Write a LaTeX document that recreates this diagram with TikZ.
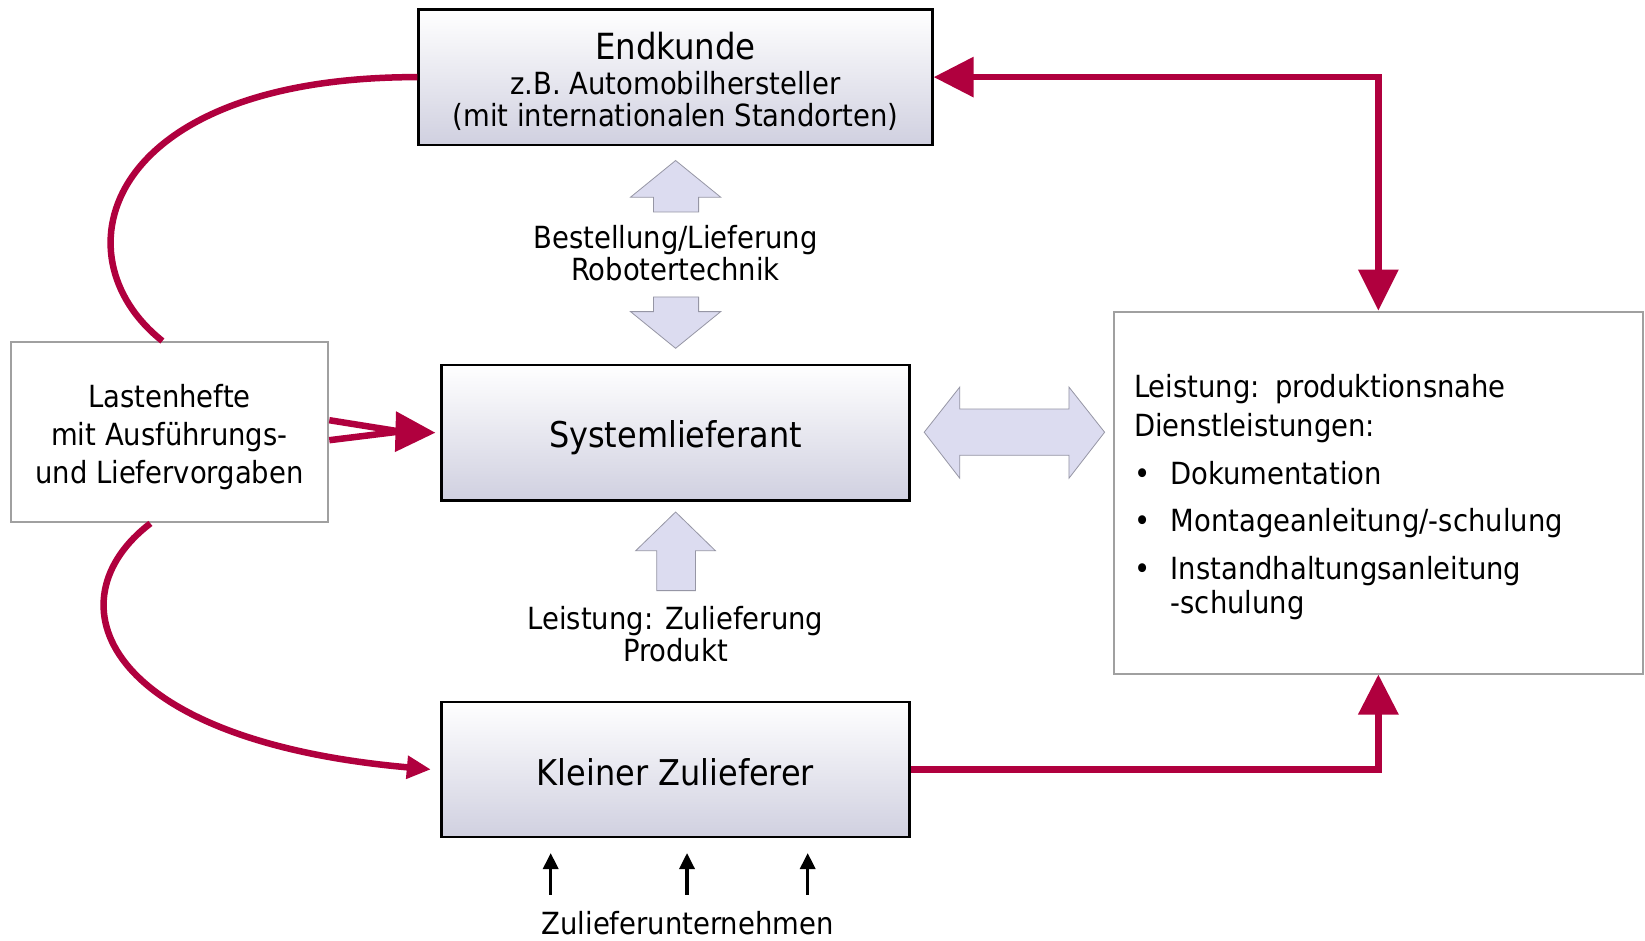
\documentclass[tikz,border=0pt]{standalone}
\usepackage{fontspec}
\setmainfont{DejaVu Sans Condensed}
\usetikzlibrary{arrows.meta,calc}
\definecolor{rred}{RGB}{176,0,62}
\definecolor{lav}{RGB}{220,220,240}
\definecolor{lavedge}{RGB}{150,150,165}
\definecolor{boxbot}{RGB}{208,208,224}
\definecolor{graybd}{RGB}{160,160,160}
\newcommand{\dnstrut}[1]{\rule{0pt}{#1}}
\begin{document}
\begin{tikzpicture}[x=1pt,y=-1pt,
 box/.style={draw=black,line width=2.2pt,top color=white,bottom color=boxbot,inner sep=0pt,align=center,minimum width=467.9pt,minimum height=135.4pt},
 plainbox/.style={draw=graybd,line width=2pt,fill=white,inner sep=0pt},
 redline/.style={draw=rred,line width=6.5pt},
 bigtip/.style={-{Triangle[length=40pt,width=39pt]}},
 blockarrow/.style={fill=lav,draw=lavedge,line width=0.8pt,line join=miter},
 blackarrow/.style={draw=black,line width=3.4pt,-{Triangle[length=16pt,width=15pt]},shorten >=14.8pt},
 lbl/.style={align=center,inner sep=0pt},
 txt/.style={font=\fontsize{30.5}{32.5}\selectfont},
 big/.style={font=\fontsize{35.5}{40}\selectfont}]
\useasboundingbox[fill=white] (0,0) rectangle (1645,940);

% boxes
\node[box,txt,minimum width=514.1pt] (ek) at (675.5,77.1)
  {\dnstrut{36.5pt}{\fontsize{36}{32.5}\selectfont Endkunde}\\[2pt]z.B. Automobilhersteller\\(mit internationalen Standorten)};
\node[box,big] (sys) at (675.5,432.7) {\dnstrut{37pt}Systemlieferant};
\node[box,big] (kz) at (675.5,769.4) {\dnstrut{33pt}Kleiner Zulieferer};
\node[plainbox,txt,align=center,minimum width=317.8pt,minimum height=180.4pt,font=\fontsize{30.5}{38}\selectfont] (lasten) at (169.4,432.2)
  {\dnstrut{33pt}Lastenhefte\\mit Ausführungs-\\und Liefervorgaben};
\node[plainbox,align=left,text width=488.7pt,inner xsep=20pt,minimum height=361.9pt,font=\fontsize{30.5}{38.8}\selectfont] (rb) at (1378.35,492.55)
  {\dnstrut{32pt}Leistung: produktionsnahe\\
   Dienstleistungen:\\[9pt]
   \makebox[36.7pt][l]{\hspace{0pt}•}Dokumentation\\[9pt]
   \makebox[36.7pt][l]{\hspace{0pt}•}Montageanleitung/-schulung\\[9pt]
   \makebox[36.7pt][l]{\hspace{0pt}•}Instandhaltungsanleitung\\[-5.4pt]
   \hspace*{36.7pt}-schulung};

% labels
\node[lbl,txt] (bl) at (675.5,253) {Bestellung/Lieferung\\Robotertechnik};
\node[lbl,txt] (lz) at (675.5,634) {Leistung: Zulieferung\\Produkt};
\node[lbl,txt] (zu) at (687.6,923) {Zulieferunternehmen};

% block arrows
\draw[blockarrow] (675.6,160.5) -- (720.7,197.2) -- (698.6,197.2) -- (698.6,211.9)
  -- (653.5,211.9) -- (653.5,197.2) -- (630.5,197.2) -- cycle;
\draw[blockarrow] (675.6,348.3) -- (720.7,311.6) -- (698.6,311.6) -- (698.6,296.9)
  -- (653.5,296.9) -- (653.5,311.6) -- (630.5,311.6) -- cycle;
\draw[blockarrow] (675.6,512) -- (715.4,550.7) -- (695.5,550.7) -- (695.5,590.6)
  -- (656.7,590.6) -- (656.7,550.7) -- (635.7,550.7) -- cycle;
\draw[blockarrow] (924.2,432.2) -- (959.8,387) -- (959.8,409) -- (1068.9,409) -- (1068.9,387)
  -- (1104.6,432.2) -- (1068.9,478.3) -- (1068.9,455.3) -- (959.8,455.3) -- (959.8,478.3) -- cycle;

% red connectors
\draw[redline,{Triangle[length=40pt,width=39pt]}-{Triangle[length=41pt,width=39pt]}] (ek.east) -| (rb.north);
\draw[redline,bigtip] (kz.east) -| (rb.south);
\draw[redline] ([xshift=-7pt]lasten.north) .. controls (54,255) and (105,77) .. (ek.west);
\draw[redline,-{Triangle[length=24pt,width=22pt]}] ([xshift=-19pt]lasten.south) .. controls (50,600) and (100,740) .. ([xshift=-9.6pt]kz.west);
\coordinate (m) at (400,431.5);
\draw[redline] ($(lasten.east)+(0,-12)$) -- (m);
\draw[redline] ($(lasten.east)+(0,8)$) -- (m);
\draw[redline,bigtip] ($(m)+(-10,0)$) -- ([xshift=-5pt]sys.west);

% small black arrows
\foreach \i/\x in {1/550.7,2/687,3/807.7}{
  \coordinate (z\i) at (\x,894.8);
  \draw[blackarrow] (z\i) -- (z\i |- kz.south);
}
\end{tikzpicture}
\end{document}
